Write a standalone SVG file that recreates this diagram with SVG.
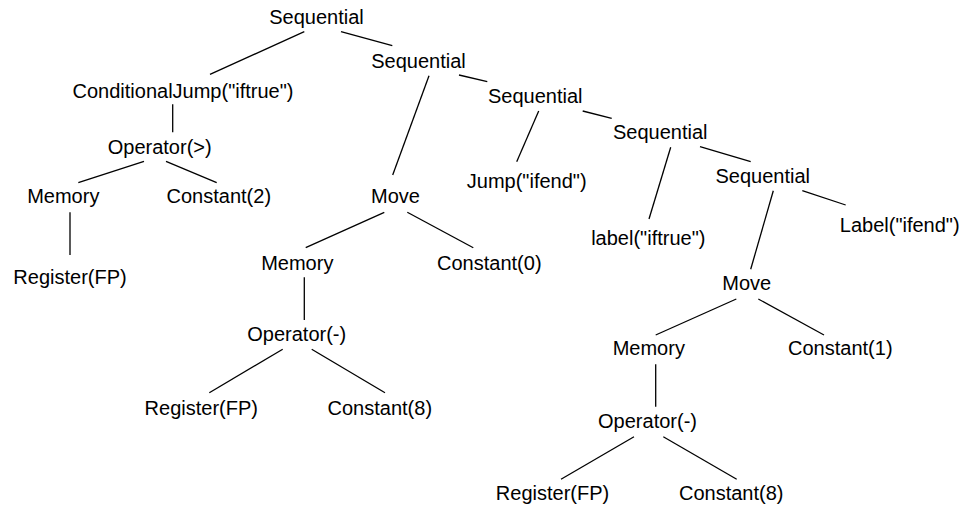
<svg xmlns="http://www.w3.org/2000/svg" width="963" height="510" viewBox="0 0 963 510">
<style>
text{font-family:"Liberation Sans",Arial,sans-serif;font-size:20px;fill:#000;text-anchor:middle}
.e line{stroke:#000;stroke-width:1.3}
</style>
<rect width="963" height="510" fill="#fff"/>
<g class="e" id="edges">
<line x1="304.3" y1="31.7" x2="210" y2="74.3"/>
<line x1="341" y1="31.7" x2="392.3" y2="45.7"/>
<line x1="172.7" y1="104.3" x2="172.7" y2="132.3"/>
<line x1="144" y1="161.3" x2="78.3" y2="182.7"/>
<line x1="166" y1="161.3" x2="216.7" y2="182.7"/>
<line x1="70" y1="212.3" x2="70" y2="255"/>
<line x1="429" y1="75.7" x2="392.7" y2="175"/>
<line x1="384.3" y1="212.3" x2="305.7" y2="247.7"/>
<line x1="407.3" y1="212.3" x2="473.3" y2="247.7"/>
<line x1="304.3" y1="277.3" x2="304.3" y2="320"/>
<line x1="282.7" y1="349.3" x2="209.3" y2="392.7"/>
<line x1="311.7" y1="349.3" x2="385" y2="392.7"/>
<line x1="459" y1="75" x2="487.3" y2="81.7"/>
<line x1="538.7" y1="111" x2="516.7" y2="161.7"/>
<line x1="582.7" y1="111" x2="611.7" y2="118.3"/>
<line x1="670.7" y1="147.3" x2="649" y2="219"/>
<line x1="700" y1="146.7" x2="750.7" y2="161.7"/>
<line x1="773.3" y1="190.7" x2="750.7" y2="269.3"/>
<line x1="802.3" y1="190.7" x2="845.7" y2="205"/>
<line x1="736.3" y1="299" x2="655.7" y2="335"/>
<line x1="758.3" y1="299" x2="824" y2="335"/>
<line x1="655.7" y1="364.3" x2="655.7" y2="406.7"/>
<line x1="634" y1="436.7" x2="561" y2="479.3"/>
<line x1="663.3" y1="436.7" x2="736.7" y2="479.3"/>
</g>
<g id="n_seq1"><text x="316.5" y="24">Sequential</text></g>
<g id="n_seq2"><text x="418.5" y="68">Sequential</text></g>
<g id="n_cjump"><text x="183" y="98">ConditionalJump("iftrue")</text></g>
<g id="n_opgt"><text x="159.7" y="154">Operator(&gt;)</text></g>
<g id="n_mem1"><text x="63.3" y="203.3">Memory</text></g>
<g id="n_const2"><text x="218.8" y="203.3">Constant(2)</text></g>
<g id="n_reg1"><text x="70" y="284">Register(FP)</text></g>
<g id="n_move1"><text x="395.5" y="203.3">Move</text></g>
<g id="n_mem2"><text x="297.3" y="270">Memory</text></g>
<g id="n_const0"><text x="489.3" y="270">Constant(0)</text></g>
<g id="n_opm1"><text x="296.7" y="341">Operator(-)</text></g>
<g id="n_reg2"><text x="201.3" y="415">Register(FP)</text></g>
<g id="n_const8a"><text x="379.8" y="415">Constant(8)</text></g>
<g id="n_seq3"><text x="535.3" y="103.3">Sequential</text></g>
<g id="n_jump"><text x="526.7" y="188.3">Jump("ifend")</text></g>
<g id="n_seq4"><text x="660.3" y="139.3">Sequential</text></g>
<g id="n_labeltrue"><text x="648.3" y="245">label("iftrue")</text></g>
<g id="n_seq5"><text x="762.8" y="182.7">Sequential</text></g>
<g id="n_labelend"><text x="899.7" y="231.7">Label("ifend")</text></g>
<g id="n_move2"><text x="746.7" y="290">Move</text></g>
<g id="n_mem3"><text x="648.8" y="355">Memory</text></g>
<g id="n_const1"><text x="840.3" y="355">Constant(1)</text></g>
<g id="n_opm2"><text x="647.5" y="428.3">Operator(-)</text></g>
<g id="n_reg3"><text x="552.5" y="500">Register(FP)</text></g>
<g id="n_const8b"><text x="731.2" y="500">Constant(8)</text></g>
</svg>
